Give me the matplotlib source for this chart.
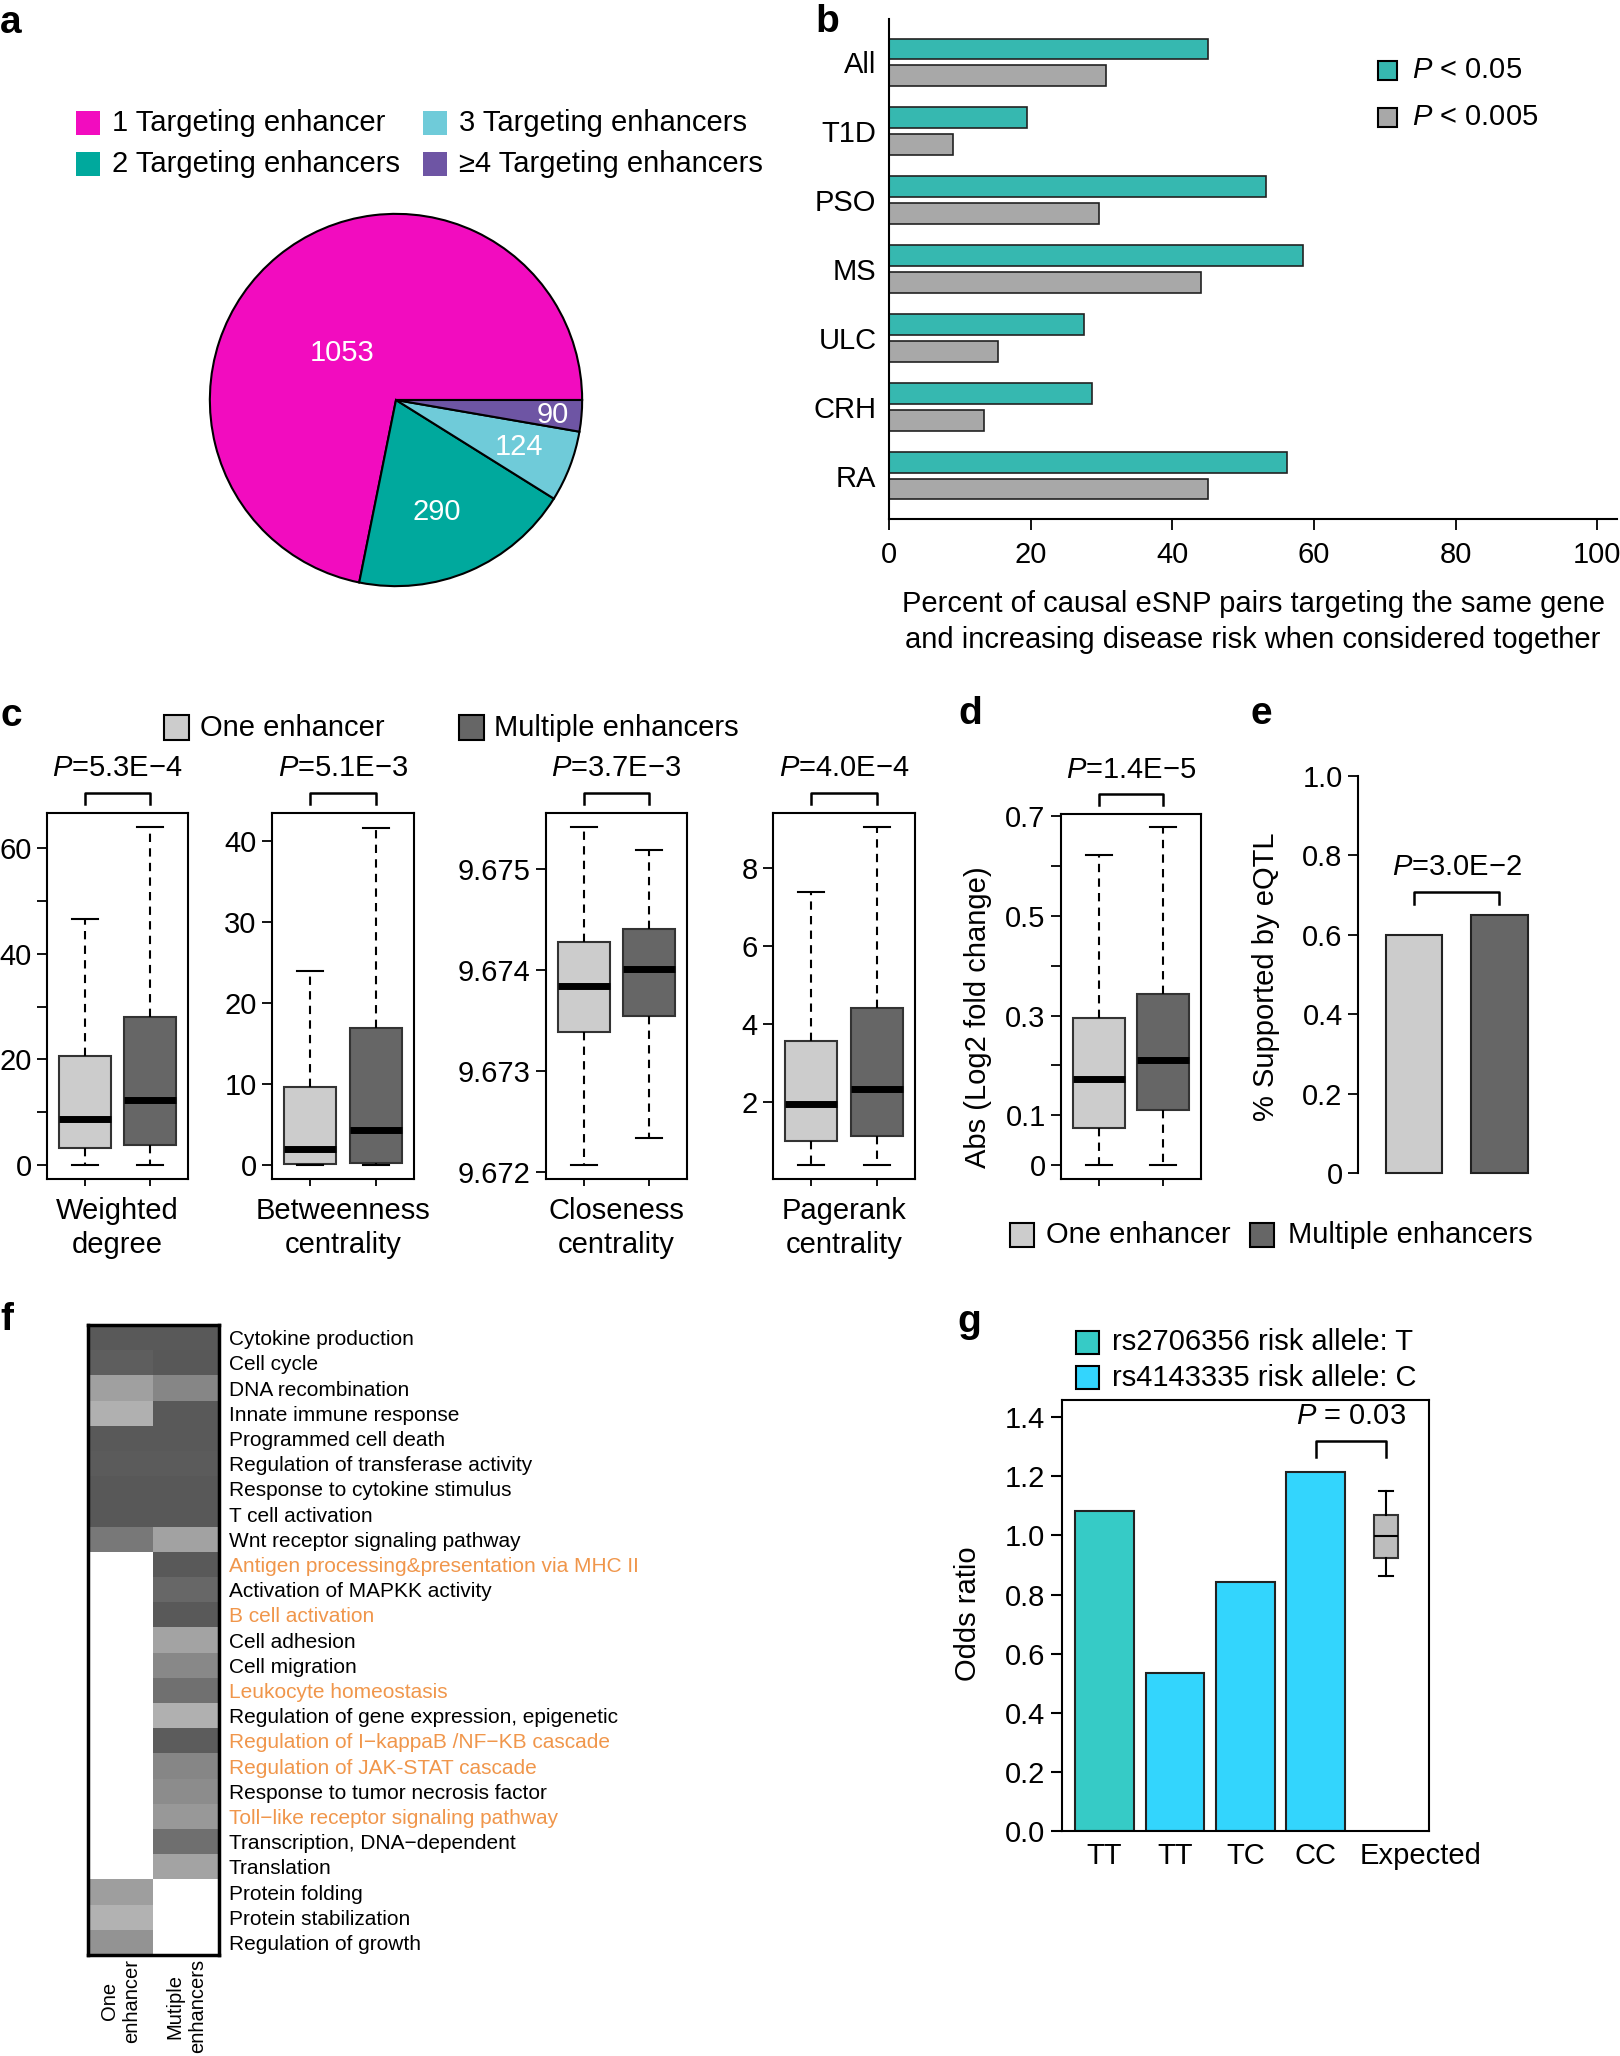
import numpy as np
import matplotlib
matplotlib.use('Agg')
import matplotlib.pyplot as plt
import matplotlib.transforms as mtransforms
from matplotlib.patches import Rectangle

plt.rcParams['font.family'] = ['Liberation Sans', 'DejaVu Sans']
plt.rcParams['mathtext.fontset'] = 'custom'
plt.rcParams['mathtext.rm'] = 'Liberation Sans'
plt.rcParams['mathtext.it'] = 'Liberation Sans:italic'

W, H = 1620, 2056
FS = 21

# ---------------- data ----------------
# a: pie (labels are the counts, slice sizes as drawn in the picture, degrees)
pie_labels = ['1 Targeting enhancer', '2 Targeting enhancers',
              '3 Targeting enhancers', '≥4 Targeting enhancers']
pie_counts = [1053, 290, 124, 90]
pie_slice_deg = [258.6, 69.4, 22.2, 9.8]
pie_colors = ['#f20cbf', '#00a99d', '#6fcbd9', '#6e55a4']

# b: horizontal bars
diseases = ['All', 'T1D', 'PSO', 'MS', 'ULC', 'CRH', 'RA']
pct_p05 = [45.1, 19.5, 53.2, 58.4, 27.6, 28.6, 56.2]
pct_p005 = [30.6, 9.1, 29.7, 44.0, 15.4, 13.4, 45.1]

# c: box stats (whislo, q1, med, q3, whishi)
centrality_names = ['Weighted\ndegree', 'Betweenness\ncentrality',
                    'Closeness\ncentrality', 'Pagerank\ncentrality']
centrality_p = ['5.3E−4', '5.1E−3', '3.7E−3', '4.0E−4']
one_weighted = [0, 3.2, 8.8, 20.7, 46.5]
multi_weighted = [0, 3.9, 12.3, 28.0, 63.9]
one_between = [0, 0.1, 2.05, 9.7, 24.0]
multi_between = [0, 0.3, 4.4, 16.9, 41.7]
one_close = [9.672066, 9.673385, 9.673843, 9.674275, 9.675410]
multi_close = [9.672333, 9.673546, 9.674004, 9.674407, 9.675187]
one_pagerank = [0.40, 1.01, 1.95, 3.58, 7.37]
multi_pagerank = [0.40, 1.14, 2.35, 4.41, 9.03]

# d: fold change box stats
one_fold = [0, 0.074, 0.172, 0.296, 0.623]
multi_fold = [0, 0.110, 0.210, 0.344, 0.678]

# e: eQTL support
eqtl_support = [0.60, 0.65]

# f: heatmap (gray level, nan = not enriched)
go_terms = ['Cytokine production', 'Cell cycle', 'DNA recombination',
            'Innate immune response', 'Programmed cell death',
            'Regulation of transferase activity', 'Response to cytokine stimulus',
            'T cell activation', 'Wnt receptor signaling pathway',
            'Antigen processing&presentation via MHC II',
            'Activation of MAPKK activity', 'B cell activation', 'Cell adhesion',
            'Cell migration', 'Leukocyte homeostasis',
            'Regulation of gene expression, epigenetic',
            'Regulation of I−kappaB /NF−KB cascade',
            'Regulation of JAK-STAT cascade', 'Response to tumor necrosis factor',
            'Toll−like receptor signaling pathway', 'Transcription, DNA−dependent',
            'Translation', 'Protein folding', 'Protein stabilization',
            'Regulation of growth']
highlight_terms = ['Antigen processing&presentation via MHC II', 'B cell activation',
                   'Leukocyte homeostasis', 'Regulation of I−kappaB /NF−KB cascade',
                   'Regulation of JAK-STAT cascade',
                   'Toll−like receptor signaling pathway']
nan = np.nan
heat_one = [89, 94, 160, 176, 89, 91, 88, 88, 120,
            nan, nan, nan, nan, nan, nan, nan, nan, nan, nan, nan, nan, nan,
            158, 178, 147]
heat_multi = [89, 88, 134, 90, 89, 91, 88, 88, 162,
              90, 103, 90, 164, 136, 112, 176, 92, 134, 140, 152, 111, 164,
              nan, nan, nan]
heat_columns = ['One\nenhancer', 'Mutiple\nenhancers']

# g: odds ratio
genotypes = ['TT', 'TT', 'TC', 'CC', 'Expected']
odds = [1.083, 0.536, 0.844, 1.216]
odds_snp = [0, 1, 1, 1]
snp_labels = ['rs2706356 risk allele: T', 'rs4143335 risk allele: C']
expected_box = [0.863, 0.925, 0.997, 1.070, 1.150]

LIGHT = '#cccccc'
DARK = '#666666'
TEAL_B = '#36b8b0'
GRAY_B = '#a8a8a8'
SNP_COLORS = ['#36cbc6', '#33d5fd']
ORANGE = '#f0964b'

fig = plt.figure(figsize=(W / 100, H / 100), dpi=100)


def add_ax(x0, y0, x1, y1):
    return fig.add_axes([x0 / W, 1 - y1 / H, (x1 - x0) / W, (y1 - y0) / H])


def ftext(x, y, s, **kw):
    kw.setdefault('fontsize', FS)
    return fig.text(x / W, 1 - y / H, s, **kw)


def fsquare(x, y, size, color, edge=True):
    fig.add_artist(Rectangle((x / W, 1 - (y + size) / H), size / W, size / H,
                             transform=fig.transFigure, facecolor=color,
                             edgecolor='black' if edge else 'none', linewidth=1.5))


def draw_boxes(ax, stats_list, positions, colors, width, capw, medlw, dashed=True):
    stats = [dict(whislo=s[0], q1=s[1], med=s[2], q3=s[3], whishi=s[4]) for s in stats_list]
    ls = (0, (4, 3)) if dashed else '-'
    art = ax.bxp(stats, positions=positions, widths=width, capwidths=capw,
                 patch_artist=True, showfliers=False,
                 boxprops=dict(edgecolor='#333333', linewidth=1.5),
                 medianprops=dict(color='black', linewidth=medlw, solid_capstyle='butt'),
                 whiskerprops=dict(color='black', linewidth=1.5, linestyle=ls),
                 capprops=dict(color='black', linewidth=1.5))
    for patch, c in zip(art['boxes'], colors):
        patch.set_facecolor(c)


def bracket(ax, x0, x1, ylo, yhi, ytxt, label, trans):
    ax.plot([x0, x0, x1, x1], [ylo, yhi, yhi, ylo], color='black', lw=1.8,
            transform=trans, clip_on=False)
    ax.text((x0 + x1) / 2, ytxt, label, transform=trans, ha='center', va='center',
            fontsize=FS)


def style_box_axes(ax):
    for sp in ax.spines.values():
        sp.set_linewidth(1.5)
    ax.tick_params(axis='y', length=7, width=1.3, labelsize=FS, pad=4)
    ax.tick_params(axis='x', length=5, width=1.3)


# panel letters
for letter, x, y in [('a', 0, 33), ('b', 815, 32), ('c', 0, 726), ('d', 958, 724),
                     ('e', 1250, 724), ('f', 0, 1330), ('g', 957, 1332)]:
    ftext(x, y, letter, fontsize=28, fontweight='bold', va='baseline')

# ---------------- a ----------------
leg_pos = [(76, 111), (76, 152), (423, 111), (423, 152)]
for (x, y), lab, col in zip(leg_pos, pie_labels, pie_colors):
    fsquare(x, y, 24, col, edge=False)
    ftext(x + 36, y + 12, lab, va='center')

ax_a = add_ax(208, 212, 584, 588)
ax_a.pie(pie_slice_deg, colors=pie_colors, startangle=0, counterclock=True,
         wedgeprops=dict(edgecolor='black', linewidth=1.5))
ax_a.set_xlim(-1.01, 1.01)
ax_a.set_ylim(-1.01, 1.01)
for val, (tx, ty) in zip(pie_counts, [(-0.29, 0.25), (0.22, -0.60), (0.66, -0.255), (0.84, -0.08)]):
    ax_a.text(tx, ty, str(val), color='white', fontsize=FS, ha='center', va='center')

# ---------------- b ----------------
ax_b = add_ax(889, 19, 1617, 519)
yb = np.arange(len(diseases))
ax_b.barh(yb - 0.195, pct_p05, height=0.3, color=TEAL_B, edgecolor='#222222', linewidth=1.2)
ax_b.barh(yb + 0.195, pct_p005, height=0.3, color=GRAY_B, edgecolor='#222222', linewidth=1.2)
ax_b.set_ylim(6.63, -0.63)
ax_b.set_xlim(0, 102.8)
ax_b.spines['top'].set_visible(False)
ax_b.spines['right'].set_visible(False)
ax_b.spines['left'].set_linewidth(1.5)
ax_b.spines['bottom'].set_linewidth(1.5)
ax_b.set_yticks(yb, diseases)
ax_b.tick_params(axis='y', length=0, pad=9, labelsize=FS)
ax_b.set_xticks(range(0, 101, 20))
ax_b.tick_params(axis='x', length=8, width=1.3, pad=8, labelsize=FS)

fsquare(1378, 61, 19, TEAL_B)
ftext(1412, 70, r'$\mathit{P}$ < 0.05', va='center')
fsquare(1378, 108, 19, GRAY_B)
ftext(1412, 117, r'$\mathit{P}$ < 0.005', va='center')
ftext(1253, 622, 'Percent of causal eSNP pairs targeting the same gene\n'
      'and increasing disease risk when considered together',
      ha='center', va='center', linespacing=1.35)

# ---------------- c ----------------
fsquare(164, 715, 25, LIGHT)
ftext(200, 728, 'One enhancer', va='center')
fsquare(459, 715, 25, DARK)
ftext(494, 728, 'Multiple enhancers', va='center')

c_stats = [(one_weighted, multi_weighted), (one_between, multi_between),
           (one_close, multi_close), (one_pagerank, multi_pagerank)]
c_x = [(47, 188), (272, 414), (546, 687), (773, 915)]
c_ylim = [(-2.6, 66.6), (-1.7, 43.5), (9.671927, 9.675553), (0.04, 9.40)]
c_ticks = [
    (np.arange(0, 61, 10), ['0', '', '20', '', '40', '', '60']),
    (np.arange(0, 41, 10), ['0', '10', '20', '30', '40']),
    ([9.672, 9.673, 9.674, 9.675], ['9.672', '9.673', '9.674', '9.675']),
    ([2, 4, 6, 8], ['2', '4', '6', '8']),
]
for (one, multi), (x0, x1), ylim, (tk, tl), name, pv in zip(
        c_stats, c_x, c_ylim, c_ticks, centrality_names, centrality_p):
    ax = add_ax(x0, 813, x1, 1179)
    draw_boxes(ax, [one, multi], [1, 2], [LIGHT, DARK], 0.8, 0.4, 5)
    ax.set_xlim(0.42, 2.58)
    ax.set_ylim(*ylim)
    ax.set_xticks([1, 2], ['', ''])
    ax.set_yticks(tk, tl)
    style_box_axes(ax)
    trans = mtransforms.blended_transform_factory(ax.transData, ax.transAxes)
    bracket(ax, 1, 2, 1.025, 1.055, 1.123, r'$\mathit{P}$=' + pv, trans)
    ftext((x0 + x1) / 2, 1228, name, ha='center', va='center', linespacing=1.25)

# ---------------- d ----------------
ax_d = add_ax(1061, 814, 1201, 1179)
draw_boxes(ax_d, [one_fold, multi_fold], [1, 2], [LIGHT, DARK], 0.8, 0.4, 5)
ax_d.set_xlim(0.42, 2.58)
ax_d.set_ylim(-0.028, 0.705)
ax_d.set_xticks([1, 2], ['', ''])
ax_d.set_yticks(np.arange(0, 0.71, 0.1), ['0', '0.1', '', '0.3', '', '0.5', '', '0.7'])
style_box_axes(ax_d)
trans_d = mtransforms.blended_transform_factory(ax_d.transData, ax_d.transAxes)
bracket(ax_d, 1, 2, 1.025, 1.055, 1.12, r'$\mathit{P}$=1.4E−5', trans_d)
ftext(978, 1017, 'Abs (Log2 fold change)', rotation=90, ha='center', va='center')

# ---------------- e ----------------
ax_e = add_ax(1358, 776, 1620, 1173)
ax_e.bar([0, 1], eqtl_support, width=0.66, color=[LIGHT, DARK],
         edgecolor='#222222', linewidth=1.5, clip_on=False)
ax_e.set_xlim(-0.655, 2.41)
ax_e.set_ylim(0, 1)
for sp in ['top', 'right', 'bottom']:
    ax_e.spines[sp].set_visible(False)
ax_e.spines['left'].set_linewidth(1.5)
ax_e.set_xticks([])
ax_e.set_yticks(np.arange(0, 1.01, 0.2), ['0', '0.2', '0.4', '0.6', '0.8', '1.0'])
ax_e.tick_params(axis='y', length=7, width=1.3, labelsize=FS, pad=4)
bracket(ax_e, 0, 1, 0.677, 0.707, 0.77, r'$\mathit{P}$=3.0E−2', ax_e.transData)
ftext(1266, 977, '% Supported by eQTL', rotation=90, ha='center', va='center')

fsquare(1010, 1223, 24, LIGHT)
ftext(1046, 1235, 'One enhancer', va='center')
fsquare(1250, 1223, 24, DARK)
ftext(1288, 1235, 'Multiple enhancers', va='center')

# ---------------- f ----------------
ax_f = add_ax(88, 1325, 219, 1955)
heat = np.ma.masked_invalid(np.column_stack([heat_one, heat_multi]))
cmap = plt.get_cmap('gray').copy()
cmap.set_bad('white')
ax_f.imshow(heat, cmap=cmap, vmin=0, vmax=255, aspect='auto', interpolation='nearest')
for sp in ax_f.spines.values():
    sp.set_linewidth(2.5)
ax_f.yaxis.tick_right()
ax_f.set_yticks(range(len(go_terms)), go_terms)
ax_f.tick_params(axis='y', length=0, pad=7, labelsize=15)
for lbl, term in zip(ax_f.get_yticklabels(), go_terms):
    lbl.set_color(ORANGE if term in highlight_terms else 'black')
ax_f.set_xticks([0, 1], heat_columns, rotation=90)
ax_f.tick_params(axis='x', length=0, pad=3, labelsize=14.5)
for lbl in ax_f.get_xticklabels():
    lbl.set_multialignment('center')

# ---------------- g ----------------
fsquare(1076, 1331, 23, SNP_COLORS[0])
ftext(1112, 1342, snp_labels[0], va='center')
fsquare(1076, 1366, 23, SNP_COLORS[1])
ftext(1112, 1378, snp_labels[1], va='center')

ax_g = add_ax(1062, 1400, 1429, 1831)
ax_g.bar(range(len(odds)), odds, width=0.833,
         color=[SNP_COLORS[s] for s in odds_snp], edgecolor='#222222', linewidth=1.5)
draw_boxes(ax_g, [expected_box], [len(odds)], ['#bdbdbd'], 0.345, 0.2, 1.5, dashed=False)
ax_g.set_xlim(-0.605, 4.61)
ax_g.set_ylim(0, 1.458)
for sp in ax_g.spines.values():
    sp.set_linewidth(1.5)
ax_g.set_yticks(np.arange(0, 1.41, 0.2), ['%.1f' % v for v in np.arange(0, 1.41, 0.2)])
ax_g.set_xticks(range(len(genotypes)), genotypes)
ax_g.tick_params(axis='y', length=8, width=1.5, labelsize=FS, pad=4)
ax_g.tick_params(axis='x', length=0, labelsize=FS, pad=8)
# "Expected" label starts just left of its box, as in the original
exp_lbl = ax_g.get_xticklabels()[-1]
exp_lbl.set_horizontalalignment('left')
exp_lbl.set_transform(exp_lbl.get_transform()
                      + mtransforms.ScaledTranslation(-0.26, 0, fig.dpi_scale_trans))
bracket(ax_g, 3, 4, 1.266, 1.318, 1.405, r'$\mathit{P}$ = 0.03', ax_g.transData)
ftext(968, 1614, 'Odds ratio', rotation=90, ha='center', va='center')

fig.savefig('out.png', dpi=100)
